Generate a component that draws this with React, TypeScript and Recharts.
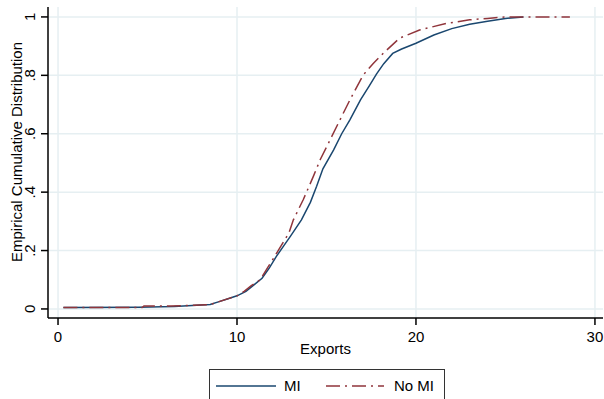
import React from "react";
import { LineChart, Line, XAxis, YAxis, CartesianGrid } from "recharts";

const miX = [0.3, 4.5, 6.5, 8.5, 9.0, 9.5, 10.0, 10.5, 11.0, 11.4, 11.8, 12.2, 12.6, 13.0, 13.6, 14.1, 14.45, 14.8, 15.4, 15.85, 16.3, 16.9, 17.4, 17.8, 18.2, 18.7, 19.2, 20.0, 21.0, 22.0, 23.0, 24.0, 25.0, 26.0];
const miY = [0.005, 0.006, 0.008, 0.015, 0.025, 0.035, 0.045, 0.06, 0.085, 0.105, 0.14, 0.18, 0.215, 0.25, 0.305, 0.365, 0.42, 0.48, 0.545, 0.6, 0.647, 0.716, 0.765, 0.805, 0.84, 0.875, 0.89, 0.91, 0.938, 0.96, 0.975, 0.985, 0.995, 1.0];

const noMiX = [0.3, 4.7, 4.8, 6.3, 8.5, 9.0, 9.6, 10.0, 10.4, 10.8, 11.3, 11.8, 12.3, 12.9, 13.15, 13.7, 14.26, 14.64, 15.29, 15.75, 16.31, 17.04, 17.6, 18.2, 19.1, 20.2, 21.7, 23.0, 24.0, 25.0, 28.6];
const noMiY = [0.005, 0.005, 0.01, 0.01, 0.015, 0.025, 0.037, 0.045, 0.06, 0.08, 0.1, 0.15, 0.2, 0.26, 0.305, 0.374, 0.453, 0.51, 0.59, 0.647, 0.716, 0.8, 0.84, 0.877, 0.928, 0.955, 0.978, 0.99, 0.995, 1.0, 1.0];

const xTicks = [0, 10, 20, 30];
const yTicks = [0, 0.2, 0.4, 0.6, 0.8, 1];
const yTickLabels = ["0", ".2", ".4", ".6", ".8", "1"];

const miData = miX.map((x, i) => ({ x, y: miY[i] }));
const noMiData = noMiX.map((x, i) => ({ x, y: noMiY[i] }));

const BLUE = "#1a476f";
const RED = "#90353b";
const FONT = "Liberation Sans, Arial, sans-serif";
const FS = 15;

const YTick = (props: any) => {
  const { x, y, payload } = props;
  const idx = yTicks.indexOf(payload.value);
  const label = idx >= 0 ? yTickLabels[idx] : String(payload.value);
  return (
    <text
      x={x}
      y={y}
      transform={`rotate(-90 ${x} ${y})`}
      textAnchor="middle"
      fontSize={FS}
      fontFamily={FONT}
      fill="#000"
    >
      {label}
    </text>
  );
};

export default function App() {
  return (
    <div style={{ position: "absolute", left: 0, top: 0, width: 604, height: 399, background: "#fff", overflow: "hidden" }}>
      <LineChart width={604} height={399} margin={{ top: 7, right: 1, left: 0, bottom: 31 }}>
        <CartesianGrid stroke="#e6eff2" strokeWidth={1.5} horizontalValues={yTicks} verticalValues={xTicks} />
        <XAxis
          type="number"
          dataKey="x"
          domain={[-0.56, 30.45]}
          ticks={xTicks}
          allowDataOverflow
          height={50}
          tickSize={7}
          tickMargin={6}
          stroke="#000"
          strokeWidth={1.5}
          tick={{ fontSize: FS, fontFamily: FONT, fill: "#000" }}
          label={{
            content: () => (
              <text x={325.5} y={354} textAnchor="middle" fontSize={FS} fontFamily={FONT} fill="#000">
                Exports
              </text>
            ),
          }}
        />
        <YAxis
          type="number"
          domain={[-0.031, 1.034]}
          ticks={yTicks}
          allowDataOverflow
          width={48}
          tickSize={7}
          tickMargin={6}
          stroke="#000"
          strokeWidth={1.5}
          tick={<YTick />}
          label={{
            content: () => (
              <text
                x={16}
                y={152}
                transform="rotate(-90 16 152)"
                textAnchor="middle"
                dominantBaseline="central"
                fontSize={FS}
                fontFamily={FONT}
                fill="#000"
              >
                Empirical Cumulative Distribution
              </text>
            ),
          }}
        />
        <Line data={miData} dataKey="y" type="linear" stroke={BLUE} strokeWidth={1.5} dot={false} isAnimationActive={false} />
        <Line data={noMiData} dataKey="y" type="linear" stroke={RED} strokeWidth={1.5} strokeDasharray="14 5 2 5" dot={false} isAnimationActive={false} />
      </LineChart>
      <div
        style={{
          position: "absolute",
          left: 209,
          top: 369,
          width: 236,
          height: 40,
          border: "1px solid #333",
          boxSizing: "border-box",
          fontFamily: FONT,
          fontSize: FS,
        }}
      >
        <svg width={236} height={40} style={{ position: "absolute", left: 0, top: 0 }}>
          <line x1={6} y1={16} x2={66} y2={16} stroke={BLUE} strokeWidth={1.5} />
          <text x={74} y={21} fontSize={FS} fontFamily={FONT} fill="#000">MI</text>
          <line x1={116} y1={16} x2={174} y2={16} stroke={RED} strokeWidth={1.5} strokeDasharray="14 5 2 5" />
          <text x={184} y={21} fontSize={FS} fontFamily={FONT} fill="#000">No MI</text>
        </svg>
      </div>
    </div>
  );
}
